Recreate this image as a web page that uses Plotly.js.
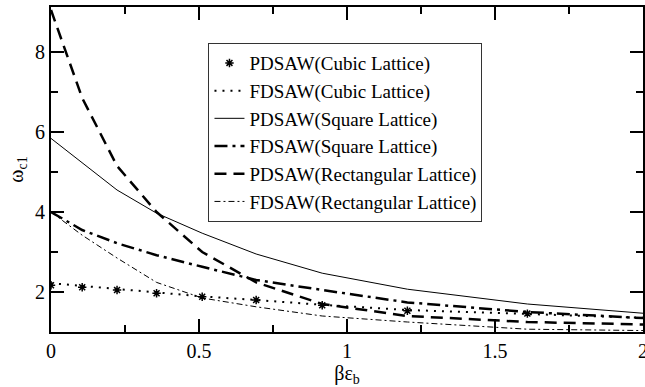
<!DOCTYPE html>
<html>
<head>
<meta charset="utf-8">
<script src="https://cdn.plot.ly/plotly-3.0.1.min.js"></script>
<style>html,body{margin:0;padding:0;background:#fff;}#chart{width:645px;height:387px;}</style>
</head>
<body>
<div id="chart"></div>
<script>
// x values (beta*epsilon_b)
var xVals = [0, 0.1054, 0.2231, 0.3567, 0.5108, 0.6931, 0.9163, 1.2040, 1.6094, 2.3026];
var pdsawCubic = [2.17, 2.12, 2.05, 1.97, 1.88, 1.80, 1.67, 1.53, 1.46, 1.30];
var fdsawCubic = [2.22, 2.15, 2.07, 1.98, 1.89, 1.80, 1.68, 1.55, 1.44, 1.28];
var pdsawSquare = [5.84, 5.22, 4.55, 3.97, 3.47, 2.95, 2.47, 2.07, 1.70, 1.29];
var fdsawSquare = [4.00, 3.55, 3.22, 2.92, 2.63, 2.30, 2.05, 1.74, 1.50, 1.23];
var pdsawRect = [9.05, 6.85, 5.15, 4.00, 3.00, 2.24, 1.70, 1.40, 1.25, 1.14];
var fdsawRect = [4.00, 3.42, 2.85, 2.24, 1.85, 1.63, 1.40, 1.25, 1.07, 1.01];
var names = ["PDSAW(Cubic Lattice)", "FDSAW(Cubic Lattice)", "PDSAW(Square Lattice)",
             "FDSAW(Square Lattice)", "PDSAW(Rectangular Lattice)", "FDSAW(Rectangular Lattice)"];
var xTickVals = [0, 0.5, 1, 1.5, 2];
var xTickText = ["0", "0.5", "1", "1.5", "2"];
var yTickVals = [2, 4, 6, 8];
var yTickText = ["2", "4", "6", "8"];

var traces = [
  {x: xVals.slice(0, 9), y: pdsawCubic.slice(0, 9), name: names[0], mode: 'markers', type: 'scatter',
   marker: {symbol: 'asterisk-open', size: 7, color: '#000', line: {color: '#000', width: 1.5}}},
  {x: xVals, y: fdsawCubic, name: names[1], mode: 'lines', type: 'scatter',
   line: {color: '#000', width: 2, dash: '2px,6px'}},
  {x: xVals, y: pdsawSquare, name: names[2], mode: 'lines', type: 'scatter',
   line: {color: '#000', width: 1}},
  {x: xVals, y: fdsawSquare, name: names[3], mode: 'lines', type: 'scatter',
   line: {color: '#000', width: 2.5, dash: '13px,5px,3px,5px'}},
  {x: xVals, y: pdsawRect, name: names[4], mode: 'lines', type: 'scatter',
   line: {color: '#000', width: 2.5, dash: '12px,7px'}},
  {x: xVals, y: fdsawRect, name: names[5], mode: 'lines', type: 'scatter',
   line: {color: '#000', width: 1, dash: '6px,3px,2px,3px'}}
];

var fontFam = "'Liberation Serif', serif";
var layout = {
  width: 645, height: 387,
  margin: {l: 51, r: 2, t: 7, b: 55},
  paper_bgcolor: '#fff', plot_bgcolor: '#fff',
  showlegend: true,
  font: {family: fontFam, color: '#000', size: 20},
  legend: {x: 0.266, y: 0.889, xanchor: 'left', yanchor: 'top',
           bordercolor: '#333', borderwidth: 1, bgcolor: '#fff',
           font: {family: fontFam, size: 19, color: '#000'}},
  xaxis: {range: [0, 2], tickvals: xTickVals, ticktext: xTickText,
          ticks: 'inside', ticklen: 13, tickwidth: 1.2, tickcolor: '#000',
          minor: {tickvals: [0.25, 0.75, 1.25, 1.75], ticks: 'inside', ticklen: 7, tickwidth: 1.2, tickcolor: '#000'},
          showline: true, linecolor: '#000', linewidth: 2, mirror: 'ticks',
          showgrid: false, zeroline: false, ticklabeloverflow: 'allow',
          tickfont: {family: fontFam, size: 20},
          title: {text: 'βε<sub>b</sub>', font: {family: fontFam, size: 20}, standoff: 8}},
  yaxis: {range: [1, 9.125], tickvals: yTickVals, ticktext: yTickText,
          ticks: 'inside', ticklen: 13, tickwidth: 1.2, tickcolor: '#000',
          minor: {tickvals: [3, 5, 7], ticks: 'inside', ticklen: 7, tickwidth: 1.2, tickcolor: '#000'},
          showline: true, linecolor: '#000', linewidth: 2, mirror: 'ticks',
          showgrid: false, zeroline: false,
          tickfont: {family: fontFam, size: 20},
          title: {text: 'ω<sub>c1</sub>', font: {family: fontFam, size: 20}, standoff: 6}}
};

Plotly.newPlot('chart', traces, layout, {displayModeBar: false, staticPlot: true});
</script>
</body>
</html>
